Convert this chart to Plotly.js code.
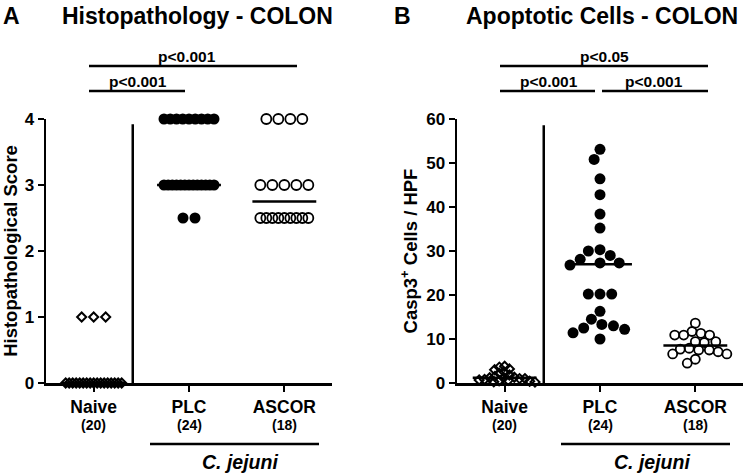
<!DOCTYPE html>
<html><head><meta charset="utf-8">
<script src="https://cdn.plot.ly/plotly-3.0.1.min.js"></script>
<style>html,body{margin:0;padding:0;background:#fff}#chart{width:744px;height:474px}</style>
</head><body><div id="chart"></div>
<script>
// ---------- data ----------
const groups = ['Naive', 'PLC', 'ASCOR'];
const groupN = ['(20)', '(24)', '(18)'];

// Panel A: histopathological score
const scoreNaive = [0,0,0,0,0,0,0,0,0,0,0,0,0,0,0,0,0, 1,1,1];
const scorePLC   = [4,4,4,4,4,4,4,4,4, 3,3,3,3,3,3,3,3,3,3,3,3,3, 2.5,2.5];
const scoreASCOR = [4,4,4,4, 3,3,3,3,3, 2.5,2.5,2.5,2.5,2.5,2.5,2.5,2.5,2.5];
const medianScore = [0, 3, 2.75];

// Panel B: Casp3+ cells / HPF
const caspNaive = [3.8,3.6,3.2,3.0,2.4,2.2,1.8,1.5,1.3,1.2,1.2,1.0,1.0,0.8,0.7,0.6,0.5,0.4,0.3,0.2];
const caspPLC   = [53.1,50.8,46.4,42.8,38.4,35.2,30.3,30.0,29.0,28.1,27.3,27.3,26.8,20.2,20.2,20.2,16.3,14.5,13.3,13.0,12.5,12.2,11.4,10.0];
const caspASCOR = [13.6,11.7,11.3,10.9,10.9,10.9,9.4,9.4,9.2,7.9,7.7,7.5,7.5,7.1,6.6,6.6,5.4,4.5];
const medianCasp = [1.2, 27.0, 8.5];

// ---------- layout geometry (pixels) ----------
const W = 744, H = 474;
const plotTop = 119, plotBot = 383;
const axA = [46, 332], axB = [457, 743];
const pxX = (axA[1] - axA[0]) / 3;
const pxYA = (plotBot - plotTop) / 4;
const pxYB = (plotBot - plotTop) / 60;
const FONT = 'Liberation Sans, Arial, Helvetica, sans-serif';
const px2x = p => p / W, px2y = p => 1 - p / H;

function rowSpread(vals, step, maxW) {
  const counts = {}, idx = {};
  vals.forEach(v => counts[v] = (counts[v] || 0) + 1);
  return vals.map(v => {
    const n = counts[v]; idx[v] = idx[v] || 0; const k = idx[v]++;
    const s = n > 1 ? Math.min(step, maxW / (n - 1)) : 0;
    return ((k - (n - 1) / 2) * s) / pxX;
  });
}
function beeswarm(vals, pxY, d) {
  const placed = [], out = []; let flip = 1;
  vals.forEach(v => {
    const y = v * pxY; const cands = [0];
    placed.forEach(p => { const dy = Math.abs(p.y - y); if (dy < d) { const dx = Math.sqrt(d*d - dy*dy); cands.push(p.x + dx, p.x - dx); } });
    cands.sort((a, b) => (Math.abs(a) - Math.abs(b)) || (flip * (b - a)));
    let best = 0;
    for (const c of cands) { if (placed.every(p => (p.x - c) ** 2 + (p.y - y) ** 2 >= d*d - 0.01)) { best = c; break; } }
    placed.push({x: best, y}); out.push(best / pxX); flip = -flip;
  });
  return out;
}

function pts(vals, gi, offs, xa, ya, marker) {
  return {x: vals.map((v, i) => gi + offs[i]), y: vals, xaxis: xa, yaxis: ya, type: 'scatter', mode: 'markers',
          marker, cliponaxis: false, showlegend: false, hoverinfo: 'y'};
}
function medLines(meds, xa, ya) {
  return meds.map((m, i) => ({x: [i - 0.335, i + 0.335], y: [m, m], xaxis: xa, yaxis: ya, type: 'scatter', mode: 'lines',
          line: {color: '#000', width: 2.5}, cliponaxis: false, showlegend: false, hoverinfo: 'skip'}));
}

const mDiamond = {symbol: 'diamond-open', size: 7, color: '#000', line: {width: 2, color: '#000'}};
const mFilled = {symbol: 'circle', size: 11, color: '#000'};
const mOpenA = {symbol: 'circle-open', size: 10, color: '#000', line: {width: 1.8, color: '#000'}};
const mOpenB = {symbol: 'circle-open', size: 9, color: '#000', line: {width: 1.8, color: '#000'}};

const traces = [
  ...medLines(medianScore, 'x', 'y'),
  pts(scoreNaive, 0, rowSpread(scoreNaive, 12, 56), 'x', 'y', mDiamond),
  pts(scorePLC, 1, rowSpread(scorePLC, 12, 50), 'x', 'y', mFilled),
  pts(scoreASCOR, 2, rowSpread(scoreASCOR, 12, 48), 'x', 'y', mOpenA),
  ...medLines(medianCasp, 'x2', 'y2'),
  pts(caspNaive, 0, beeswarm(caspNaive, pxYB, 5.4), 'x2', 'y2', mDiamond),
  pts(caspPLC, 1, beeswarm(caspPLC, pxYB, 11.7), 'x2', 'y2', mFilled),
  pts(caspASCOR, 2, beeswarm(caspASCOR, pxYB, 9.0), 'x2', 'y2', mOpenB),
];

const tickText = groups.map(g => '<b>' + g + '</b>');
const tickFont = {family: FONT, size: 17, color: '#000', weight: 'bold'};
const xBase = {range: [-0.5, 2.5], tickvals: [0, 1, 2], ticktext: tickText, showline: true, linewidth: 2.5, linecolor: '#000',
  ticks: 'outside', ticklen: 6, tickwidth: 2, tickcolor: '#000', showgrid: false, zeroline: false, fixedrange: true,
  tickfont: Object.assign({}, tickFont, {size: 17.5}), automargin: false};
const yBase = {showline: true, linewidth: 2.5, linecolor: '#000', ticks: 'outside', ticklen: 6, tickwidth: 2, tickcolor: '#000',
  showgrid: false, zeroline: false, tickfont: tickFont, automargin: false, fixedrange: true};
const yDom = [px2y(plotBot), px2y(plotTop)];

const lineShape = (x0, y0, x1, y1, w) => ({type: 'line', xref: 'paper', yref: 'paper', x0: px2x(x0), x1: px2x(x1), y0: px2y(y0), y1: px2y(y1), line: {color: '#000', width: w || 2.5}});
const shapes = [
  {type: 'line', xref: 'x', yref: 'y', x0: 0.41, x1: 0.41, y0: 0, y1: 3.92, line: {color: '#000', width: 2.5}},
  {type: 'line', xref: 'x2', yref: 'y2', x0: 0.41, x1: 0.41, y0: 0, y1: 58.6, line: {color: '#000', width: 2.5}},
  lineShape(89, 66, 297, 66), lineShape(89, 91, 185, 91),
  lineShape(500, 66, 708, 66), lineShape(500, 91, 595, 91), lineShape(602, 91, 708, 91),
  lineShape(150, 444, 319, 444), lineShape(561, 444, 730, 444),
];
const ann = (text, x, y, size, extra) => Object.assign({text, xref: 'paper', yref: 'paper', x: px2x(x), y: px2y(y), showarrow: false,
  xanchor: 'center', yanchor: 'middle', borderpad: 0, font: {family: FONT, size, color: '#000', weight: 'bold'}}, extra || {});
const nAnn = (xa) => groupN.map((t, i) => ({text: '<b>' + t + '</b>', xref: xa, yref: 'paper', x: i, y: px2y(425), showarrow: false,
  xanchor: 'center', yanchor: 'middle', font: {family: FONT, size: 14, color: '#000', weight: 'bold'}}));
const annotations = [
  ann('<b>A</b>', 2, 2, 23, {xanchor: 'left', yanchor: 'top'}),
  ann('<b>Histopathology - COLON</b>', 197, 2, 23, {yanchor: 'top'}),
  ann('<b>B</b>', 393, 2, 23, {xanchor: 'left', yanchor: 'top'}),
  ann('<b>Apoptotic Cells - COLON</b>', 602, 2, 23, {yanchor: 'top'}),
  ann('<b>p<0.001</b>', 187, 56, 15.5),
  ann('<b>p<0.001</b>', 138, 81, 15.5),
  ann('<b>p<0.05</b>', 604, 56, 15.5),
  ann('<b>p<0.001</b>', 549, 81, 15.5),
  ann('<b>p<0.001</b>', 654, 81, 15.5),
  ann('<b><i>C. jejuni</i></b>', 240, 462, 19.5),
  ann('<b><i>C. jejuni</i></b>', 652, 462, 19.5),
  ...nAnn('x'), ...nAnn('x2'),
];

const layout = {
  width: W, height: H, margin: {l: 0, r: 0, t: 0, b: 0}, paper_bgcolor: '#fff', plot_bgcolor: '#fff',
  showlegend: false, font: {family: FONT, color: '#000'},
  xaxis: Object.assign({}, xBase, {domain: [px2x(axA[0]), px2x(axA[1])], anchor: 'y'}),
  yaxis: Object.assign({}, yBase, {domain: yDom, anchor: 'x', range: [0, 4], dtick: 1, tick0: 0,
    title: {text: '<b>Histopathological Score</b>', font: {family: FONT, size: 18.5, color: '#000', weight: 'bold'}, standoff: 9}}),
  xaxis2: Object.assign({}, xBase, {domain: [px2x(axB[0]), px2x(axB[1])], anchor: 'y2'}),
  yaxis2: Object.assign({}, yBase, {domain: yDom, anchor: 'x2', range: [0, 60], dtick: 10, tick0: 0,
    title: {text: '<b>Casp3<sup>+</sup> Cells / HPF</b>', font: {family: FONT, size: 18.5, color: '#000', weight: 'bold'}, standoff: 4}}),
  shapes, annotations,
};
Plotly.newPlot('chart', traces, layout, {displayModeBar: false, staticPlot: true});
</script></body></html>
